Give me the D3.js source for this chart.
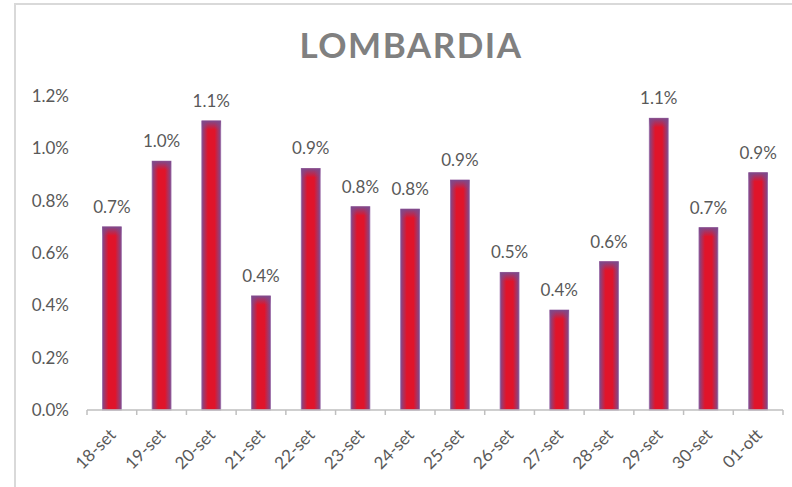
<!DOCTYPE html>
<html>
<head>
<meta charset="utf-8">
<script src="https://cdn.jsdelivr.net/npm/d3@7"></script>
<style>
  body { margin: 0; background: #fff; }
  text { font-family: Lato, "Open Sans", sans-serif; }
</style>
</head>
<body>
<div id="chart"></div>
<script>
// data (percent)
var days = ["18-set", "19-set", "20-set", "21-set", "22-set", "23-set", "24-set",
            "25-set", "26-set", "27-set", "28-set", "29-set", "30-set", "01-ott"];
var values = [0.700, 0.951, 1.105, 0.436, 0.923, 0.777, 0.768,
              0.879, 0.526, 0.382, 0.567, 1.115, 0.697, 0.907];
var yTicks = [0, 0.2, 0.4, 0.6, 0.8, 1.0, 1.2];

var width = 792, height = 487;

var svg = d3.select("#chart")
    .append("svg")
    .attr("width", width)
    .attr("height", height);

// bar fill: purple edges, red middle
var defs = svg.append("defs");
var grad = defs.append("linearGradient")
    .attr("id", "barFill")
    .attr("x1", "0").attr("x2", "1").attr("y1", "0").attr("y2", "0");
grad.append("stop").attr("offset", "0%").attr("stop-color", "#7d4a8c");
grad.append("stop").attr("offset", "32%").attr("stop-color", "#e0142a");
grad.append("stop").attr("offset", "68%").attr("stop-color", "#e0142a");
grad.append("stop").attr("offset", "100%").attr("stop-color", "#7d4a8c");

var topGrad = defs.append("linearGradient")
    .attr("id", "barTop")
    .attr("x1", "0").attr("x2", "0").attr("y1", "0").attr("y2", "1");
topGrad.append("stop").attr("offset", "0%").attr("stop-color", "#7d4a8c").attr("stop-opacity", 1);
topGrad.append("stop").attr("offset", "100%").attr("stop-color", "#7d4a8c").attr("stop-opacity", 0);

// frame of the chart area
svg.append("path")
    .attr("d", "M15," + height + "V4H" + width)
    .attr("fill", "none")
    .attr("stroke", "#d9d9d9")
    .attr("stroke-width", 2);

var x = d3.scaleBand()
    .domain(days)
    .range([87, 783])
    .paddingInner(0.62)
    .paddingOuter(0.31);

var y = d3.scaleLinear()
    .domain([0, 1.2])
    .range([410, 96]);

// title
svg.append("text")
    .attr("x", 411)
    .attr("y", 58)
    .attr("text-anchor", "middle")
    .attr("font-family", "'Open Sans', sans-serif")
    .attr("font-size", 35)
    .attr("font-weight", "bold")
    .attr("letter-spacing", 1.5)
    .attr("fill", "#808080")
    .text("LOMBARDIA");

// y axis labels (no line)
svg.append("g")
    .selectAll("text")
    .data(yTicks)
    .enter()
    .append("text")
    .attr("x", 69)
    .attr("y", function(d) { return y(d); })
    .attr("dy", "0.35em")
    .attr("text-anchor", "end")
    .attr("font-size", 17)
    .attr("fill", "#595959")
    .text(function(d) { return d.toFixed(1) + "%"; });

// bars
var bars = svg.append("g");
bars.selectAll("rect.bar")
    .data(values)
    .enter()
    .append("rect")
    .attr("class", "bar")
    .attr("x", function(d, i) { return x(days[i]); })
    .attr("y", function(d) { return y(d); })
    .attr("width", x.bandwidth())
    .attr("height", function(d) { return y(0) - y(d); })
    .attr("fill", "url(#barFill)")
    .attr("stroke", "#9a6aa6")
    .attr("stroke-width", 0.8);

bars.selectAll("rect.top")
    .data(values)
    .enter()
    .append("rect")
    .attr("class", "top")
    .attr("x", function(d, i) { return x(days[i]); })
    .attr("y", function(d) { return y(d); })
    .attr("width", x.bandwidth())
    .attr("height", 9)
    .attr("fill", "url(#barTop)");

// value labels
svg.append("g")
    .selectAll("text")
    .data(values)
    .enter()
    .append("text")
    .attr("x", function(d, i) { return x(days[i]) + x.bandwidth() / 2; })
    .attr("y", function(d) { return y(d) - 14; })
    .attr("text-anchor", "middle")
    .attr("font-size", 17)
    .attr("fill", "#595959")
    .text(function(d) { return d.toFixed(1) + "%"; });

// x axis
var xAxis = svg.append("g")
    .attr("transform", "translate(0,410)");
xAxis.append("line")
    .attr("x1", 87).attr("x2", 783)
    .attr("stroke", "#bfbfbf")
    .attr("stroke-width", 1.5);
var step = x.step();
xAxis.selectAll("line.tick")
    .data(d3.range(days.length + 1))
    .enter()
    .append("line")
    .attr("class", "tick")
    .attr("x1", function(i) { return 87 + i * step; })
    .attr("x2", function(i) { return 87 + i * step; })
    .attr("y1", 0).attr("y2", 5)
    .attr("stroke", "#bfbfbf")
    .attr("stroke-width", 1.5);

xAxis.selectAll("text")
    .data(days)
    .enter()
    .append("text")
    .attr("transform", function(d) {
        return "translate(" + (x(d) + x.bandwidth() / 2 + 5) + ",26)rotate(-45)";
    })
    .attr("text-anchor", "end")
    .attr("font-size", 17)
    .attr("fill", "#595959")
    .text(function(d) { return d; });
</script>
</body>
</html>
